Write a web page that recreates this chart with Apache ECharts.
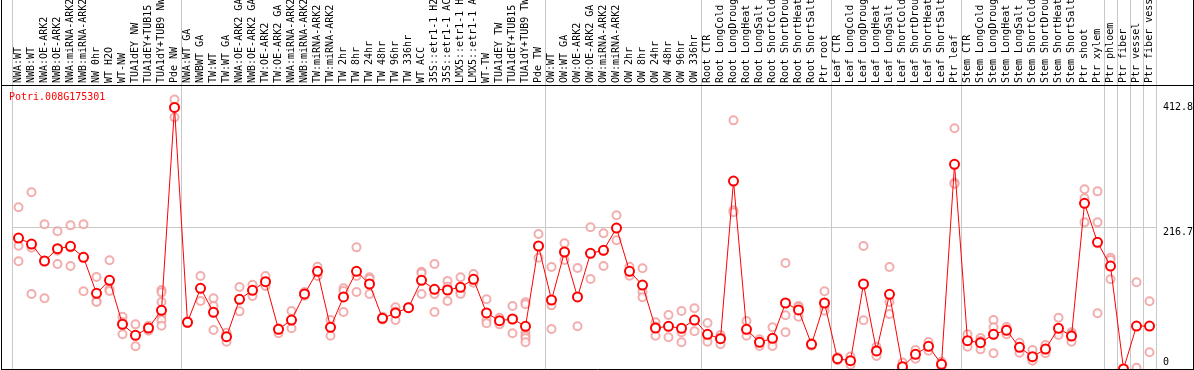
<!DOCTYPE html>
<html>
<head>
<meta charset="utf-8">
<script src="https://cdn.jsdelivr.net/npm/echarts@6/dist/echarts.min.js"></script>
<style>
html,body{margin:0;padding:0;background:#fff;}
#chart{width:1194px;height:370px;}
</style>
</head>
<body>
<div id="chart"></div>
<script>
const geneName = 'Potri.008G175301';

const categories = [
  'NWA:WT','NWB:WT','NWA:OE-ARK2','NWB:OE-ARK2','NWA:miRNA-ARK2','NWB:miRNA-ARK2','NW 0hr','WT H2O','WT-NW','TUA1dEY NW','TUA1dEY+TUB15 NW','TUA1dY+TUB9 NW','Pde NW',
  'NWA:WT GA','NWBWT GA','TW:WT','TW:WT GA','NWA:OE-ARK2 GA','NWB:OE-ARK2 GA','TW:OE-ARK2','TW:OE-ARK2 GA','NWA:miRNA-ARK2 GA','NWB:miRNA-ARK2 GA','TW:miRNA-ARK2','TW:miRNA-ARK2 GA',
  'TW 2hr','TW 8hr','TW 24hr','TW 48hr','TW 96hr','TW 336hr','WT ACC','35S::etr1-1 H2O','35S::etr1-1 ACC','LMX5::etr1-1 H2O','LMX5::etr1-1 ACC','WT-TW','TUA1dEY TW','TUA1dEY+TUB15 TW','TUA1dY+TUB9 TW','Pde TW',
  'OW:WT','OW:WT GA','OW:OE-ARK2','OW:OE-ARK2 GA','OW:miRNA-ARK2','OW:miRNA-ARK2 GA','OW 2hr','OW 8hr','OW 24hr','OW 48hr','OW 96hr','OW 336hr',
  'Root CTR','Root LongCold','Root LongDrought','Root LongHeat','Root LongSalt','Root ShortCold','Root ShortDrought','Root ShortHeat','Root ShortSalt','Ptr root',
  'Leaf CTR','Leaf LongCold','Leaf LongDrought','Leaf LongHeat','Leaf LongSalt','Leaf ShortCold','Leaf ShortDrought','Leaf ShortHeat','Leaf ShortSalt','Ptr leaf',
  'Stem CTR','Stem LongCold','Stem LongDrought','Stem LongHeat','Stem LongSalt','Stem ShortCold','Stem ShortDrought','Stem ShortHeat','Stem ShortSalt','Ptr shoot','Ptr xylem',
  'Ptr phloem','Ptr fiber','Ptr vessel','Ptr fiber vessel'
];

// index of the first category of each sample group (separator lines)
const groupStarts = [0, 13, 41, 53, 63, 73, 84, 85, 86, 87];

const meanValues = [
  200.6, 191.4, 165.4, 184.3, 187.9, 171.0, 115.9, 135.8, 68.4, 51.6, 62.8, 89.9, 400.7,
  71.5, 123.6, 86.8, 49.5, 106.7, 120.5, 133.7, 60.8, 75.0, 114.9, 149.6, 63.8,
  110.3, 149.6, 130.2, 77.6, 85.8, 93.9, 135.8, 122.1, 121.0, 125.1, 137.4, 85.8, 74.0, 76.6, 65.3, 188.4,
  105.7, 179.2, 110.3, 177.1, 181.8, 215.9, 149.6, 128.6, 62.8, 65.4, 62.3, 75.0,
  53.1, 46.4, 287.9, 60.8, 40.9, 47.0, 101.1, 90.4, 37.8, 101.1,
  15.8, 12.7, 130.2, 27.6, 114.4, 3.5, 22.5, 34.8, 7.2, 313.5,
  43.4, 40.3, 53.1, 59.3, 33.2, 18.8, 30.6, 62.3, 50.5, 253.7, 194.0,
  157.7, 0, 65.8, 65.8
];

const replicateValues = [
  [247.6, 188.9, 164.9], [270.6, 185.8, 114.9], [221.6, 165.4, 108.3], [210.9, 181.2, 160.8],
  [220.0, 186.0, 157.7], [221.6, 172.0, 119.0], [140.9, 104.0, 102.6], [166.5, 122.5, 119.4],
  [80.0, 72.0, 53.1], [68.4, 51.6, 34.8], [66.3, 62.8, 58.7], [121.0, 117.4, 102.6, 82.7, 75.0, 66.3],
  [412.8, 400.0, 385.4],
  [73.0, 71.5, 70.0], [142.4, 123.6, 104.1], [108.3, 96.5, 59.7], [55.6, 49.5, 41.8],
  [125.6, 106.7, 88.3], [129.1, 120.5, 111.8], [142.4, 133.7, 127.1], [62.3, 60.8, 54.7],
  [88.8, 75.0, 62.3], [118.0, 114.9, 112.0], [156.7, 149.6, 142.5], [75.0, 65.0, 51.0],
  [123.6, 119.4, 87.3], [186.3, 142.4, 117.9], [140.4, 137.8, 114.9], [80.0, 77.0, 76.0],
  [94.5, 88.0, 75.0], [95.0, 94.0, 93.0], [149.0, 146.5, 114.9], [160.8, 114.9, 87.3],
  [134.8, 126.1, 104.1], [140.4, 117.4, 114.9], [145.5, 137.4, 132.2], [106.7, 75.0, 70.0],
  [78.6, 71.5, 68.4], [96.5, 76.0, 54.7], [102.1, 99.1, 64.8, 55.6, 50.5, 47.0, 40.9],
  [206.7, 188.0, 170.4],
  [156.2, 97.5, 61.3], [192.5, 178.0, 166.9], [154.7, 110.0, 65.4], [217.0, 177.0, 137.8],
  [207.8, 181.0, 157.7], [235.4, 216.0, 197.1], [156.7, 149.6, 142.9], [154.2, 118.4, 109.8],
  [71.5, 65.0, 51.0], [82.7, 65.0, 48.5], [88.8, 56.2, 40.9], [93.0, 74.0, 57.7],
  [70.4, 50.0, 41.8], [52.1, 48.0, 37.8], [380.8, 243.0, 240.0], [73.5, 58.0, 51.0],
  [45.5, 42.0, 35.2], [63.9, 42.0, 35.2], [162.3, 82.2, 56.2], [96.5, 95.0, 80.1],
  [40.0, 38.0, 35.5], [119.0, 95.0, 89.3],
  [18.0, 16.0, 13.5], [19.0, 12.7, 6.6], [188.4, 130.0, 74.6], [34.2, 28.7, 19.9],
  [156.2, 102.8, 84.2], [10.0, 0.5, 0], [29.1, 22.5, 15.8], [41.3, 35.0, 28.0],
  [11.2, 5.7, 4.7], [368.6, 285.3, 283.3],
  [53.1, 43.0, 34.2], [47.5, 43.0, 30.1], [75.0, 63.9, 53.0, 24.0], [64.3, 60.5, 53.1],
  [40.3, 34.0, 25.0], [29.1, 14.6, 12.7], [36.8, 31.0, 24.0], [78.6, 56.2, 52.1],
  [56.2, 53.5, 41.8], [275.2, 261.4, 224.6], [272.1, 224.6, 85.3],
  [170.4, 166.9, 137.4], [0, 0, 0], [132.8, 2.0], [103.7, 25.6]
];

const yTickLabels = ['0', '216.7', '412.8'];

const MONO = '"DejaVu Sans Mono", "Liberation Mono", monospace';

const dataMax = Math.max(...meanValues, ...replicateValues.flat());
const yMax = dataMax * 1.05;
const yInterval = yMax / 2;

const repPoints = [];
replicateValues.forEach((reps, i) => {
  reps.forEach(v => repPoints.push([categories[i], v]));
});

const chart = echarts.init(document.getElementById('chart'), null, {renderer: 'canvas'});

const splitInterval = (index) => groupStarts.indexOf(index) >= 0;

const option = {
  backgroundColor: '#ffffff',
  animation: false,
  grid: [
    {left: 12, width: 1144, top: 86, height: 283, containLabel: false, outerBoundsMode: 'none'},
    {left: 12, width: 1144, top: 0, height: 85, containLabel: false, outerBoundsMode: 'none'}
  ],
  xAxis: [
    {
      type: 'category', gridIndex: 0, position: 'top', data: categories, boundaryGap: true,
      axisLine: {show: false}, axisTick: {show: false},
      axisLabel: {show: true, interval: 0, rotate: 90, margin: 3, color: '#000',
        fontFamily: MONO, fontSize: 10, hideOverlap: false},
      splitLine: {show: true, interval: splitInterval, lineStyle: {color: '#c8c8c8', width: 1}}
    },
    {
      type: 'category', gridIndex: 1, data: categories, boundaryGap: true,
      axisLine: {show: false}, axisTick: {show: false}, axisLabel: {show: false},
      splitLine: {show: true, interval: splitInterval, lineStyle: {color: '#c8c8c8', width: 1}}
    }
  ],
  yAxis: [
    {
      type: 'value', gridIndex: 0, position: 'right', min: 0, max: yMax, interval: yInterval,
      axisLine: {show: false}, axisTick: {show: false},
      splitLine: {show: true, lineStyle: {color: ['transparent', '#c8c8c8', 'transparent'], width: 1}},
      axisLabel: {
        show: true, margin: 7, color: '#000', fontFamily: MONO, fontSize: 10, align: 'left',
        formatter: (v) => {
          const k = Math.round(v / yInterval);
          const key = ['z', 'm', 't'][k];
          return '{' + key + '|' + yTickLabels[k] + '}';
        },
        rich: {
          z: {fontFamily: MONO, fontSize: 10, color: '#000', padding: [0, 0, 14, 0]},
          m: {fontFamily: MONO, fontSize: 10, color: '#000', padding: [9, 0, 0, 0]},
          t: {fontFamily: MONO, fontSize: 10, color: '#000', padding: [43, 0, 0, 0]}
        }
      }
    },
    {type: 'value', gridIndex: 1, show: false}
  ],
  series: [
    {
      name: 'replicates', type: 'scatter', xAxisIndex: 0, yAxisIndex: 0,
      data: repPoints, symbol: 'emptyCircle', symbolSize: 8,
      itemStyle: {color: '#ef9a9a', borderColor: '#ef9a9a', borderWidth: 1.3},
      z: 2, silent: true
    },
    {
      name: 'mean', type: 'line', xAxisIndex: 0, yAxisIndex: 0,
      data: meanValues, symbol: 'emptyCircle', symbolSize: 9, showSymbol: true,
      lineStyle: {color: '#ff0000', width: 1},
      itemStyle: {color: '#ff0000', borderColor: '#ff0000', borderWidth: 1.5},
      z: 3, silent: true
    }
  ],
  graphic: [
    {type: 'text', left: 9, top: 92, z: 10, style: {text: geneName, fill: '#ff0000', font: '10px ' + MONO}},
    {type: 'line', z: 10, shape: {x1: 1.5, y1: 0, x2: 1.5, y2: 370}, style: {stroke: '#000', lineWidth: 1}},
    {type: 'line', z: 10, shape: {x1: 1193.5, y1: 0, x2: 1193.5, y2: 370}, style: {stroke: '#000', lineWidth: 1}},
    {type: 'line', z: 10, shape: {x1: 1, y1: 85.5, x2: 1194, y2: 85.5}, style: {stroke: '#000', lineWidth: 1}},
    {type: 'line', z: 10, shape: {x1: 1, y1: 369.5, x2: 1194, y2: 369.5}, style: {stroke: '#000', lineWidth: 1}}
  ]
};

chart.setOption(option);
</script>
</body>
</html>
